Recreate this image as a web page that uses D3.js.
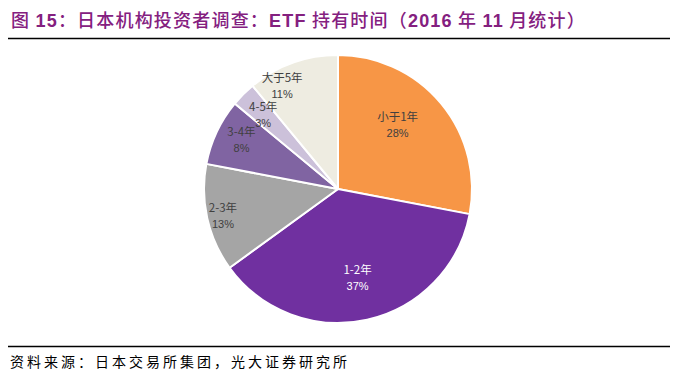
<!DOCTYPE html>
<html>
<head>
<meta charset="utf-8">
<script src="https://cdn.jsdelivr.net/npm/d3@7"></script>
<style>
  body { margin: 0; background: #fff; }
  svg { display: block; }
</style>
</head>
<body>
<svg id="pie"></svg>
<script>
const categories = ["小于1年", "1-2年", "2-3年", "3-4年", "4-5年", "大于5年"];
const values = [28, 37, 13, 8, 3, 11];
const colors = ["#F79646", "#7030A0", "#A5A5A5", "#8064A2", "#CCC1DA", "#EEECE1"];
const labelColors = ["#404040", "#ffffff", "#404040", "#404040", "#404040", "#404040"];
// label placement, as Excel "best fit" puts them
const labelRadius = [0.66, 0.67, 0.88, 0.81, 0.79, 0.88];
const labelNudge = [-8, 0, 0, 2, 0, -8.5]; // degrees

const width = 678;
const height = 377;
const cx = 338, cy = 189, r = 134;

const svg = d3.select("#pie").attr("width", width).attr("height", height);

// title
const title = svg.append("text")
  .attr("x", 11).attr("y", 27)
  .attr("fill", "#84207F")
  .style("font-size", "18px")
  .style("letter-spacing", "1.2px")
  .style("font-family", "'Noto Sans CJK SC', sans-serif");
const parts = [
  ["图 ", false], ["15", true], ["：日本机构投资者调查：", false], ["ETF", true],
  [" 持有时间（", false], ["2016", true], [" 年 ", false], ["11", true], [" 月统计）", false]
];
parts.forEach(([t, latin]) => {
  title.append("tspan").text(t)
    .style("font-family", latin ? "'Liberation Sans', Arial, sans-serif" : "'Noto Sans CJK SC', sans-serif")
    .style("font-weight", latin ? "bold" : "500");
});

svg.append("line").attr("x1", 8).attr("x2", 670).attr("y1", 38.5).attr("y2", 38.5)
  .attr("stroke", "#000").attr("stroke-width", 1.5);
svg.append("line").attr("x1", 8).attr("x2", 670).attr("y1", 346.5).attr("y2", 346.5)
  .attr("stroke", "#000").attr("stroke-width", 1.5);

svg.append("text")
  .attr("x", 10).attr("y", 367)
  .attr("fill", "#000")
  .style("font-size", "14px")
  .style("letter-spacing", "3px")
  .style("font-family", "'Noto Sans CJK SC', sans-serif")
  .text("资料来源：日本交易所集团，光大证券研究所");

const data = categories.map((c, i) => ({ cat: c, value: values[i], i }));

const pie = d3.pie().value(d => d.value).sort(null);
const arc = d3.arc().innerRadius(0).outerRadius(r);
const arcs = pie(data);

const g = svg.append("g").attr("transform", `translate(${cx},${cy})`);

g.selectAll("path")
  .data(arcs)
  .join("path")
  .attr("d", arc)
  .attr("fill", d => colors[d.data.i])
  .attr("stroke", "#fff")
  .attr("stroke-width", 2)
  .attr("stroke-linejoin", "round");

const labels = g.selectAll("g.label")
  .data(arcs)
  .join("g")
  .attr("class", "label")
  .attr("transform", d => {
    const a = (d.startAngle + d.endAngle) / 2 + labelNudge[d.data.i] * Math.PI / 180;
    const rr = r * labelRadius[d.data.i];
    return `translate(${rr * Math.sin(a)},${-rr * Math.cos(a)})`;
  });

labels.append("text")
  .attr("text-anchor", "middle")
  .attr("y", -3)
  .attr("fill", d => labelColors[d.data.i])
  .style("font-size", "11.5px")
  .style("font-family", "'Noto Sans CJK SC', sans-serif")
  .text(d => d.data.cat);

labels.append("text")
  .attr("text-anchor", "middle")
  .attr("y", 13)
  .attr("fill", d => labelColors[d.data.i])
  .style("font-size", "11px")
  .style("font-family", "'Liberation Sans', Arial, sans-serif")
  .text(d => d.data.value + "%");
</script>
</body>
</html>
